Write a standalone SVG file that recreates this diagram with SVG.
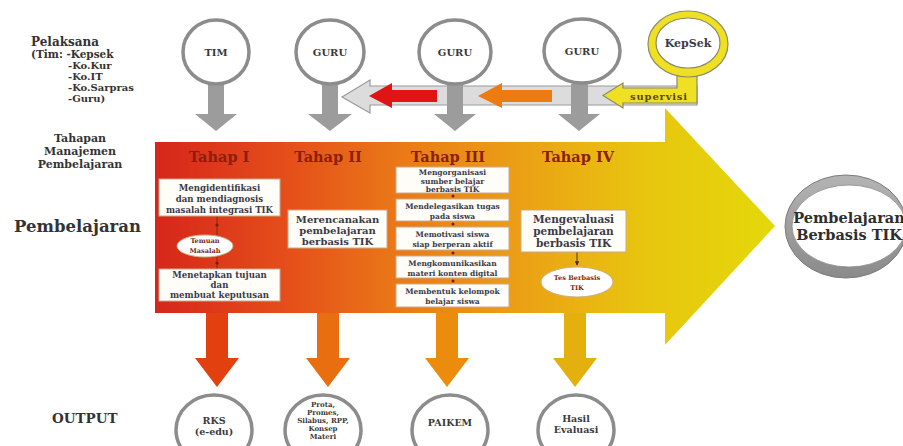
<svg xmlns="http://www.w3.org/2000/svg" width="903" height="446" viewBox="0 0 903 446">
<defs>
<style>
text{font-family:"DejaVu Serif","Liberation Serif",serif;font-weight:bold;fill:#333;}
.c{text-anchor:middle;}
.lbl{font-size:10px;}
.head{font-size:14.5px;fill:#8a1f0e;text-anchor:middle;}
.box{fill:#fffdf8;stroke:#c9a98c;stroke-width:1;}
.bt{font-size:8.6px;fill:#3a3a48;text-anchor:middle;}
.bt3{font-size:7.5px;fill:#3a3a48;text-anchor:middle;}
.bt2{font-size:10px;fill:#3a3a48;text-anchor:middle;}
.sm{font-size:6.6px;fill:#7a2a1a;text-anchor:middle;}
.circ{fill:#fff;stroke:#8c8c8c;stroke-width:3.5;}
.garrow{fill:#9c9c9c;}
.oval{fill:#fff;stroke:#cfae84;stroke-width:1;}
.dot{fill:#7a1a10;}
.ct{font-size:10px;fill:#3a3a3a;text-anchor:middle;}
.ot{font-size:9.5px;fill:#3a3a3a;text-anchor:middle;}
.ot2{font-size:7px;fill:#3a3a3a;text-anchor:middle;}
.tm{font-size:11px;text-anchor:middle;}
</style>
<linearGradient id="bigGrad" x1="155" y1="0" x2="775" y2="0" gradientUnits="userSpaceOnUse">
<stop offset="0" stop-color="#d6261b"/>
<stop offset="0.22" stop-color="#e5501a"/>
<stop offset="0.4" stop-color="#ea7a17"/>
<stop offset="0.6" stop-color="#eba215"/>
<stop offset="0.78" stop-color="#e8c40f"/>
<stop offset="1" stop-color="#e4d80a"/>
</linearGradient>
<linearGradient id="ringGrad" x1="0" y1="0" x2="0" y2="1">
<stop offset="0" stop-color="#b4b4b4"/>
<stop offset="1" stop-color="#8a8a8a"/>
</linearGradient>
<marker id="ah" viewBox="0 0 6 6" refX="5" refY="3" markerWidth="5" markerHeight="5" orient="auto">
<path d="M0,0 L6,3 L0,6 Z" fill="#4a2a1a"/>
</marker>
</defs>
<rect width="903" height="446" fill="#ffffff"/>

<g id="labels-left">
<text x="31" y="46" style="font-size:12px">Pelaksana</text>
<text x="31" y="58" class="lbl" style="font-size:10.5px">(Tim: -Kepsek</text>
<text x="68" y="69" class="lbl">-Ko.Kur</text>
<text x="68" y="80" class="lbl">-Ko.IT</text>
<text x="68" y="91" class="lbl">-Ko.Sarpras</text>
<text x="68" y="102" class="lbl">-Guru)</text>
<text x="80" y="142" class="tm">Tahapan</text>
<text x="80" y="155" class="tm">Manajemen</text>
<text x="80" y="168" class="tm">Pembelajaran</text>
<text x="14" y="232" style="font-size:16.5px">Pembelajaran</text>
<text x="52" y="423" style="font-size:13.5px">OUTPUT</text>
</g>

<g id="big-arrow">
<path d="M155,142 L665,142 L665,108 L775,226 L665,345 L665,313 L155,313 Z" fill="url(#bigGrad)"/>
</g>

<g id="connectors">
<path d="M342,97 L370,80 L370,86 L697,86 L697,105 L370,105 L370,113 Z" fill="#dcdcdc" stroke="#9a9a9a" stroke-width="1.2"/>
<path d="M369,96 L392,83 L392,90 L437,90 L437,102 L392,102 L392,108 Z" fill="#e01414"/>
<path d="M478,96 L502,83 L502,90 L552,90 L552,102 L502,102 L502,108 Z" fill="#ec7c12"/>
<path class="garrow" d="M208,84 L224,84 L224,114 L237,114 L216,131 L195,114 L208,114 Z"/>
<path class="garrow" d="M322,84 L338,84 L338,114 L352,114 L330,131 L308,114 L322,114 Z"/>
<path class="garrow" d="M447,84 L463,84 L463,114 L476,114 L455,131 L434,114 L447,114 Z"/>
<path class="garrow" d="M571,84 L588,84 L588,114 L600,114 L579,131 L558,114 L571,114 Z"/>
<path d="M206,313 L228,313 L228,358 L239,358 L217,387 L195,358 L206,358 Z" fill="#e2400f"/>
<path d="M317,313 L339,313 L339,358 L350,358 L328,387 L306,358 L317,358 Z" fill="#e86e10"/>
<path d="M436,313 L458,313 L458,358 L469,358 L447,387 L425,358 L436,358 Z" fill="#eb8c0c"/>
<path d="M564,313 L586,313 L586,358 L597,358 L575,387 L553,358 L564,358 Z" fill="#e4b00e"/>
<line x1="217" y1="216" x2="217" y2="235" stroke="#6a2a1a" stroke-width="0.8"/>
<circle class="dot" cx="217" cy="225" r="1.6"/>
<line x1="217" y1="257" x2="217" y2="269" stroke="#6a2a1a" stroke-width="0.8"/>
<circle class="dot" cx="217" cy="263" r="1.6"/>
<circle class="dot" cx="453" cy="196" r="1.5"/>
<circle class="dot" cx="453" cy="224" r="1.5"/>
<circle class="dot" cx="453" cy="253" r="1.5"/>
<circle class="dot" cx="453" cy="281" r="1.5"/>
<line x1="577" y1="252" x2="577" y2="265" stroke="#4a2a1a" stroke-width="0.9" marker-end="url(#ah)"/>
</g>

<g id="node-tim">
<ellipse class="circ" cx="216" cy="52" rx="33" ry="32"/>
<text x="216" y="56" class="ct">TIM</text>
</g>
<g id="node-guru1">
<ellipse class="circ" cx="330" cy="52" rx="34" ry="32"/>
<text x="330" y="56" class="ct">GURU</text>
</g>
<g id="node-guru2">
<ellipse class="circ" cx="455" cy="52" rx="36" ry="32"/>
<text x="455" y="56" class="ct">GURU</text>
</g>
<g id="node-guru3">
<ellipse class="circ" cx="582" cy="51" rx="38" ry="32"/>
<text x="582" y="55" class="ct">GURU</text>
</g>

<g id="node-kepsek">
<path d="M677,68 L677,88 L623,88 L623,83 L603,95.5 L623,108 L623,103 L697,103 L697,68 Z" fill="#f0e024" stroke="#8a8a6a" stroke-width="1.2"/>
<ellipse cx="688" cy="44" rx="40" ry="33" fill="#f0e024" stroke="#8a8a6a" stroke-width="1.2"/>
<ellipse cx="688" cy="43" rx="32" ry="25" fill="#fff" stroke="#8a8a6a" stroke-width="1.2"/>
<text x="688" y="47" class="c" style="font-size:11px;fill:#3a3a48">KepSek</text>
<text x="659" y="100" class="c" style="font-size:10px;fill:#5a4810;letter-spacing:0.8px">supervisi</text>
</g>

<g id="tahap-1">
<text x="219" y="162" class="head">Tahap I</text>
<rect class="box" x="159" y="179" width="121" height="37"/>
<text x="219.5" y="190.5" class="bt">Mengidentifikasi</text>
<text x="219.5" y="201.5" class="bt">dan mendiagnosis</text>
<text x="219.5" y="212.5" class="bt">masalah integrasi TIK</text>
<ellipse class="oval" cx="205" cy="246" rx="28" ry="11"/>
<text x="205" y="242.5" class="sm">Temuan</text>
<text x="205" y="252.5" class="sm">Masalah</text>
<rect class="box" x="159" y="269" width="121" height="32"/>
<text x="219.5" y="278" class="bt">Menetapkan tujuan</text>
<text x="219.5" y="288" class="bt">dan</text>
<text x="219.5" y="298" class="bt">membuat keputusan</text>
</g>

<g id="tahap-2">
<text x="328" y="162" class="head">Tahap II</text>
<rect class="box" x="288" y="210" width="99" height="38"/>
<text x="337.5" y="222.5" class="bt2">Merencanakan</text>
<text x="337.5" y="234" class="bt2">pembelajaran</text>
<text x="337.5" y="245" class="bt2">berbasis TIK</text>
</g>

<g id="tahap-3">
<text x="448" y="162" class="head">Tahap III</text>
<rect class="box" x="396" y="167" width="113" height="26"/>
<text x="452.5" y="175" class="bt3">Mengorganisasi</text>
<text x="452.5" y="183.5" class="bt3">sumber belajar</text>
<text x="452.5" y="192" class="bt3">berbasis TIK</text>
<rect class="box" x="396" y="199" width="113" height="22"/>
<text x="452.5" y="208.5" class="bt3">Mendelegasikan tugas</text>
<text x="452.5" y="218.5" class="bt3">pada siswa</text>
<rect class="box" x="396" y="227" width="113" height="23"/>
<text x="452.5" y="236.5" class="bt3">Memotivasi siswa</text>
<text x="452.5" y="246.5" class="bt3">siap berperan aktif</text>
<rect class="box" x="396" y="256" width="113" height="22"/>
<text x="452.5" y="265.5" class="bt3">Mengkomunikasikan</text>
<text x="452.5" y="275.5" class="bt3">materi konten digital</text>
<rect class="box" x="396" y="284" width="113" height="23"/>
<text x="452.5" y="293.5" class="bt3">Membentuk kelompok</text>
<text x="452.5" y="303.5" class="bt3">belajar siswa</text>
</g>

<g id="tahap-4">
<text x="578" y="162" class="head">Tahap IV</text>
<rect class="box" x="521" y="210" width="105" height="42"/>
<text x="573.5" y="222.5" class="bt2" style="font-size:10.5px">Mengevaluasi</text>
<text x="573.5" y="235" class="bt2" style="font-size:10.5px">pembelajaran</text>
<text x="573.5" y="247" class="bt2" style="font-size:10.5px">berbasis TIK</text>
<ellipse class="oval" cx="577" cy="282" rx="36" ry="15"/>
<text x="577" y="280" class="sm">Tes Berbasis</text>
<text x="577" y="290" class="sm">TIK</text>
</g>

<g id="node-result">
<ellipse cx="846" cy="226.5" rx="61" ry="51.5" fill="url(#ringGrad)" stroke="#7c7c7c" stroke-width="1"/>
<ellipse cx="849" cy="226" rx="57" ry="41" fill="#fff" stroke="#8a8a8a" stroke-width="0.8"/>
<text x="849" y="223" class="c" style="font-size:14.5px;fill:#2e2e2e">Pembelajaran</text>
<text x="849" y="240" class="c" style="font-size:14.5px;fill:#2e2e2e">Berbasis TIK</text>
</g>

<g id="output-rks">
<ellipse class="circ" cx="214" cy="430" rx="38" ry="35"/>
<text x="214" y="424" class="ot">RKS</text>
<text x="214" y="435" class="ot">(e-edu)</text>
</g>
<g id="output-prota">
<ellipse class="circ" cx="323" cy="430" rx="38" ry="35"/>
<text x="323" y="407" class="ot2">Prota,</text>
<text x="323" y="415" class="ot2">Promes,</text>
<text x="323" y="423" class="ot2">Silabus, RPP,</text>
<text x="323" y="431" class="ot2">Konsep</text>
<text x="323" y="439" class="ot2">Materi</text>
</g>
<g id="output-paikem">
<ellipse class="circ" cx="450" cy="430" rx="38" ry="35"/>
<text x="450" y="426" class="ot">PAIKEM</text>
</g>
<g id="output-hasil">
<ellipse class="circ" cx="576" cy="430" rx="38" ry="35"/>
<text x="576" y="422" class="ot">Hasil</text>
<text x="576" y="433" class="ot">Evaluasi</text>
</g>
</svg>
